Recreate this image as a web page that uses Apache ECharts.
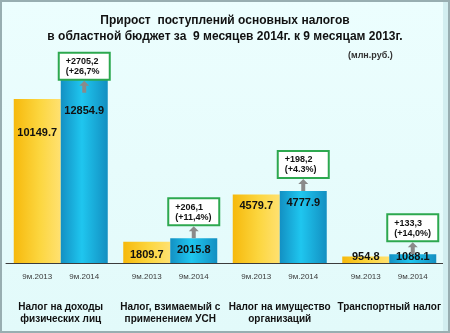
<!DOCTYPE html>
<html><head><meta charset="utf-8">
<script src="https://cdn.jsdelivr.net/npm/echarts@6/dist/echarts.min.js"></script>
<style>
html,body{margin:0;padding:0;}
#wrap{position:relative;width:450px;height:333px;background:linear-gradient(180deg,#ecfefe 0%,#e2fafa 100%);overflow:hidden;}
#chart{position:absolute;left:0;top:0;width:450px;height:333px;}
#frame{position:absolute;left:0;top:0;width:450px;height:333px;box-sizing:border-box;border:2px solid #98aeb1;box-shadow:inset -5px 0 0 #d2eef0;pointer-events:none;}
</style>
</head><body>
<div id="wrap"><div id="chart"></div><div id="frame"></div></div>
<script>
// ---- data ----
const categories = ['Налог на доходы\nфизических лиц', 'Налог, взимаемый с\nприменением УСН', 'Налог на имущество\nорганизаций', 'Транспортный налог'];
const seriesNames = ['9м.2013', '9м.2014'];
const values2013 = [10149.7, 1809.7, 4579.7, 954.8];
const values2014 = [12854.9, 2015.8, 4777.9, 1088.1];
const growthAbs = ['+2705,2', '+206,1', '+198,2', '+133,3'];
const growthPct = ['(+26,7%', '(+11,4%)', '(+4.3%)', '(+14,0%)'];
const titleText = 'Прирост  поступлений основных налогов\nв областной бюджет за  9 месяцев 2014г. к 9 месяцам 2013г.';
const unitText = '(млн.руб.)';
const yMin = 570, yMax = 13600;

// ---- styling ----
const FONT = 'Liberation Sans, Arial, sans-serif';
const labelOffsets2013 = [[0, 22], [0, 2], [0, 0], [0, -11]];
const labelOffsets2014 = [[0, 47], [0, 0], [0, 0], [0, -9]];
const arrowOffsets = [[0, 34], [0, -6], [0, -6], [0, -6]];
const arrowPath = 'path://M5 0 L10 5 L7 5 L7 12 L3 12 L3 5 L0 5 Z';

const yellowGrad = new echarts.graphic.LinearGradient(0, 0, 1, 0, [
  {offset: 0, color: '#f6b90c'}, {offset: 0.55, color: '#fcd63f'}, {offset: 1, color: '#ffe171'}]);
const blueGrad = new echarts.graphic.LinearGradient(0, 0, 1, 0, [
  {offset: 0, color: '#1390c3'}, {offset: 0.45, color: '#1fc6ef'}, {offset: 1, color: '#138fc1'}]);

function barData(vals, offs) {
  return vals.map((v, i) => ({value: v, label: {offset: offs[i]}}));
}
function subLabelPoints(n) {
  return categories.map((c, i) => ({
    coord: [i, yMin], symbol: 'rect', symbolSize: 0,
    label: {show: true, position: 'bottom', distance: 10, formatter: n, color: '#3a3a3a', fontSize: 8, fontFamily: FONT}
  }));
}
const annotPoints = categories.map((c, i) => ({
  coord: [i, values2014[i]],
  symbol: arrowPath, symbolSize: [10, 12], symbolOffset: arrowOffsets[i],
  itemStyle: {color: '#8a8a8a'},
  label: {
    show: true, position: 'top', distance: 2,
    formatter: '{a|' + growthAbs[i] + '}\n{a|' + growthPct[i] + '}',
    backgroundColor: '#ffffff', borderColor: '#2da84f', borderWidth: 2,
    padding: [3, 6, 2, 6],
    rich: {a: {width: 37, align: 'left', fontSize: 9, fontWeight: 'bold', color: '#111', lineHeight: 10, fontFamily: FONT}}
  }
}));

const chart = echarts.init(document.getElementById('chart'), null, {renderer: 'canvas'});
chart.setOption({
  backgroundColor: 'transparent',
  animation: false,
  title: [
    {text: titleText, left: 'center', top: 8,
     textStyle: {fontFamily: FONT, fontSize: 12, fontWeight: 'bold', color: '#111', lineHeight: 16}},
    {text: unitText, left: 343, top: 46,
     textStyle: {fontFamily: FONT, fontSize: 9, fontWeight: 'bold', color: '#333'}}
  ],
  grid: {left: 6, right: 6, top: 40, bottom: 70, containLabel: false},
  xAxis: {
    type: 'category', data: categories,
    axisLine: {lineStyle: {color: '#3c3c3c', width: 1}},
    axisTick: {show: false},
    axisLabel: {margin: 38, fontFamily: FONT, fontSize: 10, fontWeight: 'bold', color: '#111', lineHeight: 12, interval: 0}
  },
  yAxis: {type: 'value', min: yMin, max: yMax, show: false, splitLine: {show: false}},
  series: [
    {name: seriesNames[0], type: 'bar', barWidth: 47, barGap: '0%',
     itemStyle: {color: yellowGrad},
     label: {show: true, position: 'insideTop', distance: 6, fontFamily: FONT, fontSize: 11, fontWeight: 'bold', color: '#111'},
     data: barData(values2013, labelOffsets2013),
     markPoint: {data: subLabelPoints(seriesNames[0]), silent: true}},
    {name: seriesNames[1], type: 'bar', barWidth: 47, barGap: '0%',
     itemStyle: {color: blueGrad},
     label: {show: true, position: 'insideTop', distance: 6, fontFamily: FONT, fontSize: 11, fontWeight: 'bold', color: '#111'},
     data: barData(values2014, labelOffsets2014),
     markPoint: {data: subLabelPoints(seriesNames[1]).concat(annotPoints), silent: true}}
  ]
});
</script>
</body></html>
